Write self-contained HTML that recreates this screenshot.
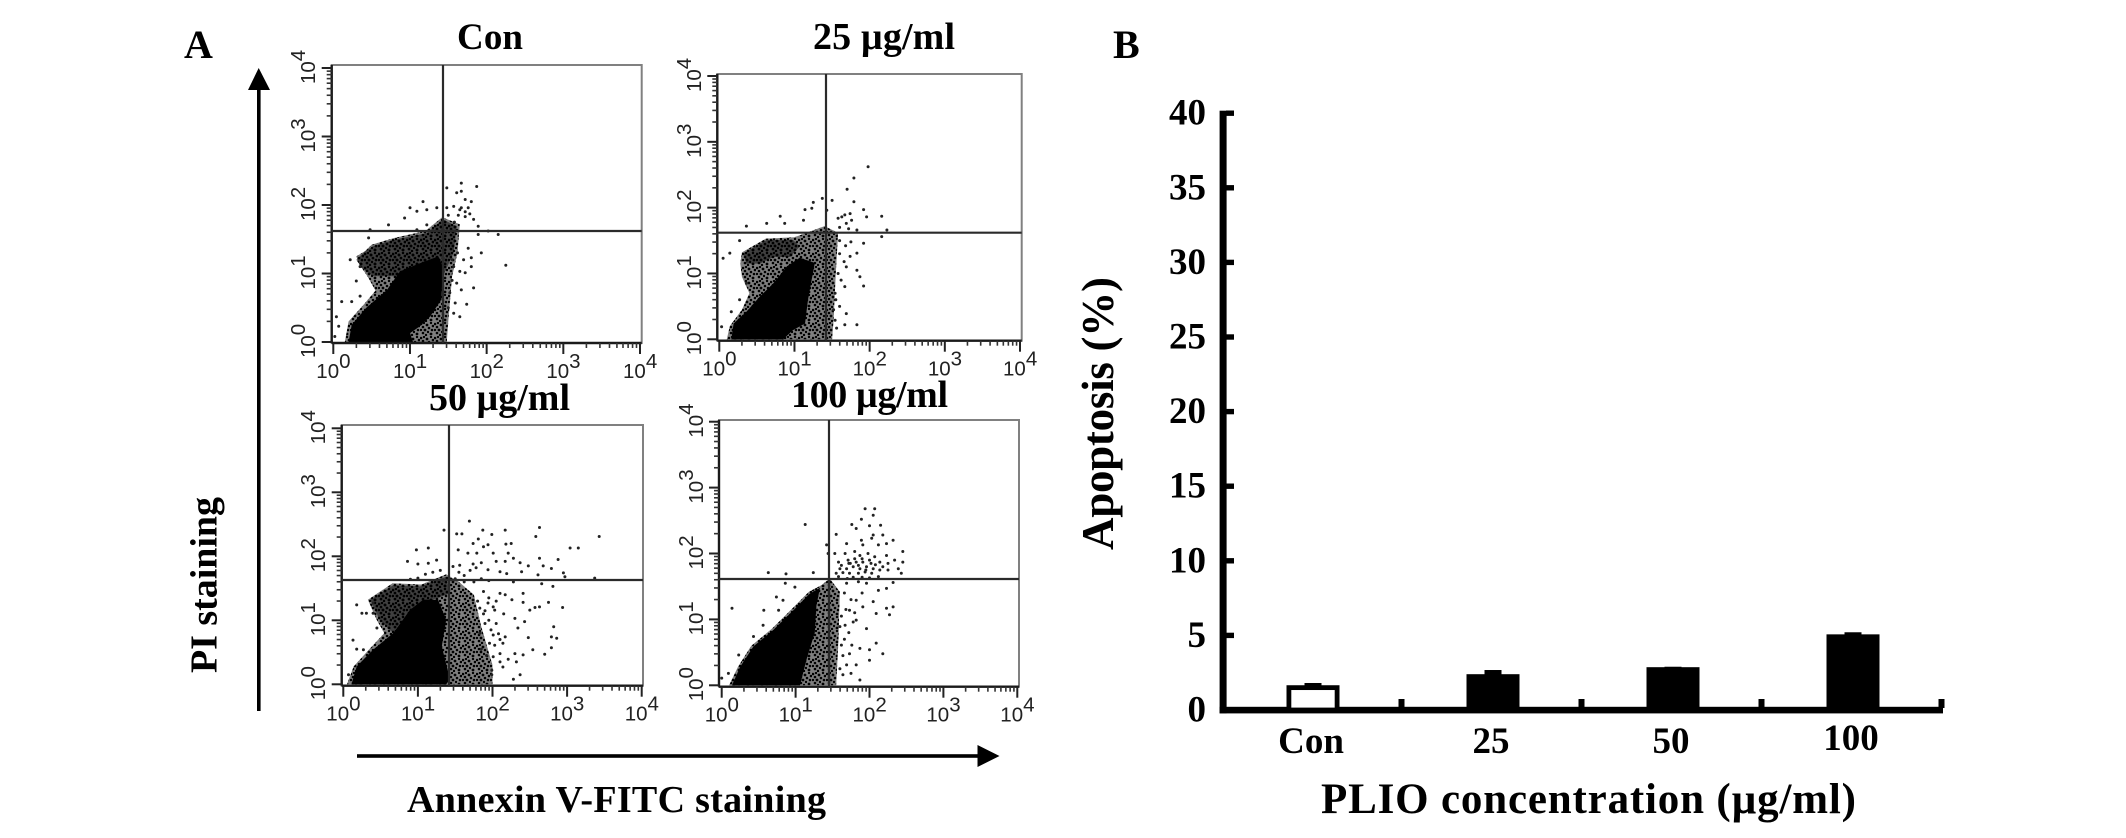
<!DOCTYPE html>
<html lang="en">
<head>
<meta charset="utf-8">
<title>Apoptosis flow cytometry and bar chart</title>
<style>
  html, body { margin: 0; padding: 0; background: #fff; }
  #figure { display: block; width: 2126px; height: 838px; }
  .serif { font-family: "Liberation Serif", "Noto Serif CJK SC", serif; font-weight: bold; fill: #000; }
  .sans { font-family: "Liberation Sans", sans-serif; fill: #222; font-size: 20.5px; }
</style>
</head>
<body>
<svg id="figure" xmlns="http://www.w3.org/2000/svg" width="2126" height="838" viewBox="0 0 2126 838">
  <defs>
    <pattern id="speckle" width="14" height="14" patternUnits="userSpaceOnUse">
      <rect width="14" height="14" fill="#000" fill-opacity="0.5"/>
      <circle cx="1" cy="2" r="1.3"/><circle cx="4" cy="1" r="1.2"/><circle cx="7" cy="3" r="1.4"/>
      <circle cx="11" cy="1" r="1.2"/><circle cx="13" cy="4" r="1.3"/><circle cx="3" cy="5" r="1.3"/>
      <circle cx="9" cy="6" r="1.3"/><circle cx="1" cy="8" r="1.2"/><circle cx="5" cy="8" r="1.4"/>
      <circle cx="12" cy="8" r="1.3"/><circle cx="8" cy="10" r="1.2"/><circle cx="3" cy="11" r="1.3"/>
      <circle cx="11" cy="12" r="1.4"/><circle cx="6" cy="13" r="1.2"/>
    </pattern>
  </defs>

  <rect width="2126" height="838" fill="#fff"/>

  <text class="serif" x="184" y="58" font-size="40">A</text>
  <text class="serif" x="1113" y="58" font-size="40">B</text>

  <text class="serif" x="457" y="49" font-size="37" textLength="66">Con</text>
  <text class="serif" x="813" y="49" font-size="38" textLength="142">25 µg/ml</text>
  <text class="serif" x="429" y="410" font-size="38" textLength="141">50 µg/ml</text>
  <text class="serif" x="791" y="407" font-size="38" textLength="157">100 µg/ml</text>

  <g id="flow-panels"></g>

  <g>
    <rect x="257" y="85" width="3.6" height="626" fill="#000"/>
    <polygon points="258.7,68 248,90 270,90" fill="#000"/>
  </g>
  <g>
    <rect x="357" y="754.2" width="625" height="3.6" fill="#000"/>
    <polygon points="999.5,756 977.5,745 977.5,767" fill="#000"/>
  </g>
  <text class="serif" transform="translate(216.5,673) rotate(-90)" font-size="38" textLength="176">PI staining</text>
  <text class="serif" x="407" y="812" font-size="38" textLength="419">Annexin V-FITC staining</text>

  <g id="bar-chart"></g>
  <text class="serif" transform="translate(1113,550) rotate(-90)" font-size="45" textLength="273">Apoptosis (%)</text>
  <text class="serif" x="1321" y="813" font-size="43" textLength="535">PLIO concentration (µg/ml)</text>
</svg>

<script>
// ---------- Flow cytometry data (log10 decades: [annexin, PI]) ----------
const decadeExponents = [0, 1, 2, 3, 4];

const conSolidRegion = [[.20,0],[.24,.25],[.43,.50],[.70,.76],[.87,1.03],[1.13,1.15],[1.37,1.25],[1.43,1.10],[1.41,.62],[1.26,.37],[1.13,.23],[1.00,.13],[1.04,0]];
const conSpeckleRegions = [
  [[.15,0],[.2,.3],[.4,.55],[.55,.75],[.45,.95],[.3,1.2],[.5,1.42],[.8,1.52],[1.2,1.62],[1.42,1.82],[1.65,1.72],[1.62,1.3],[1.55,.96],[1.5,.3],[1.48,0]],
  [[.30,1.25],[.52,1.40],[.78,1.49],[1.22,1.59],[1.43,1.79],[1.61,1.69],[1.57,1.30],[1.43,.96],[.87,.96],[.52,.96],[.35,1.10]]
];
const conDots = [[1.67,2.32],[1.87,2.27],[1.48,2.25],[1.67,2.20],[1.61,2.18],[1.17,2.05],[1.00,1.96],[1.09,1.91],[1.22,1.93],[1.35,1.96],[1.48,1.96],[1.72,2.08],[1.80,2.05],[1.57,1.98],[1.67,1.96],[1.76,1.96],[1.72,1.83],[1.65,1.93],[1.83,1.79],[1.89,1.69],[2.02,1.62],[2.15,1.57],[1.93,1.30],[2.25,1.12],[1.89,1.57],[1.76,1.37],[1.80,1.23],[1.80,1.10],[1.65,1.03],[1.72,1.01],[1.67,.76],[1.83,.79],[1.59,.57],[1.74,.55],[1.57,.42],[1.65,.37],[.22,1.20],[.35,1.10],[.30,.89],[.35,.67],[.11,.59],[.24,.59],[.04,.37],[.07,.23],[.02,.08],[.48,1.64],[.46,1.52],[.72,1.71],[.93,1.81],[1.09,1.64],[1.22,1.71],[1.61,.86],[1.57,1.10],[1.55,.90],[1.52,.72],[1.50,.50],[1.55,1.20],[1.62,1.30],[1.70,1.20],[1.58,1.75],[1.63,1.85],[1.50,1.85],[1.72,1.90],[1.78,1.87]];

const dose25SolidRegion = [[.16,0],[.19,.24],[.36,.42],[.54,.65],[.72,.85],[.90,1.11],[1.07,1.24],[1.27,1.16],[1.18,.60],[1.14,.24],[.98,.14],[.85,0]];
const dose25SpeckleRegions = [
  [[.1,0],[.14,.2],[.3,.45],[.4,.7],[.3,.95],[.28,1.15],[.3,1.32],[.62,1.53],[1.0,1.55],[1.4,1.72],[1.58,1.62],[1.55,1.0],[1.52,.3],[1.5,0]],
  [[.32,1.31],[.63,1.51],[.98,1.51],[1.07,1.41],[.94,1.25],[.72,1.25],[.54,1.15],[.36,1.15]]
];
const dose25Dots = [[1.98,2.62],[1.79,2.45],[1.70,2.28],[1.37,2.14],[1.50,2.11],[1.79,2.09],[1.25,2.08],[1.14,1.97],[1.23,1.99],[1.43,1.96],[1.92,1.97],[2.16,1.87],[1.96,1.86],[.81,1.87],[.63,1.76],[.87,1.76],[.36,1.72],[1.12,1.81],[2.23,1.66],[2.16,1.56],[1.92,1.46],[.27,1.50],[.05,1.23],[.14,1.31],[1.83,1.05],[1.92,.81],[1.87,.95],[1.69,1.10],[1.67,.80],[1.74,1.26],[1.83,1.31],[1.54,.70],[1.52,.45],[1.69,.39],[1.83,.22],[1.67,.22],[1.56,.17],[1.54,.29],[.03,.19],[.16,.42],[.27,.60],[.36,.85],[1.74,1.91],[1.63,1.86],[1.67,1.89],[1.76,1.81],[1.58,1.84],[1.69,1.76],[1.83,1.66],[1.60,1.50],[1.68,1.42],[1.75,1.48],[1.60,1.30],[1.66,1.18],[1.58,1.00],[1.62,.90],[1.55,.60],[1.60,.50],[1.60,1.70],[1.72,1.68]];

const dose50SolidRegion = [[.11,0],[.18,.28],[.40,.54],[.67,.80],[.89,1.16],[1.07,1.32],[1.27,1.32],[1.38,1.01],[1.32,.59],[1.43,.08],[1.38,0]];
const dose50SpeckleRegions = [
  [[.05,0],[.14,.28],[.35,.55],[.55,.8],[.45,1.0],[.33,1.32],[.66,1.58],[1.05,1.56],[1.38,1.72],[1.55,1.6],[1.75,1.4],[1.85,.9],[2.0,.3],[2.0,0]],
  [[.36,1.32],[.67,1.55],[1.03,1.53],[1.38,1.68],[1.43,1.42],[1.12,1.29],[.89,1.16],[.67,.80],[.49,1.00]]
];
const dose50Dots = [[1.69,2.55],[1.35,2.41],[1.52,2.35],[1.59,2.35],[1.87,2.41],[2.17,2.41],[2.63,2.45],[2.58,2.31],[3.43,2.31],[1.99,2.34],[1.81,2.27],[2.25,2.20],[2.18,2.19],[1.74,2.20],[1.88,2.15],[1.94,2.18],[3.04,2.13],[3.15,2.13],[.98,2.10],[1.14,2.13],[1.54,2.10],[1.67,2.05],[1.79,2.05],[2.01,2.05],[2.21,2.05],[2.63,1.97],[2.88,1.95],[.86,1.92],[1.00,1.88],[1.14,1.89],[1.25,1.94],[1.47,1.84],[1.56,1.86],[1.74,1.88],[1.85,1.90],[2.05,1.92],[2.17,1.92],[2.28,1.97],[2.37,1.90],[2.48,1.85],[2.68,1.85],[2.79,1.81],[1.94,1.79],[2.10,1.76],[2.19,1.73],[2.39,1.76],[2.61,1.71],[2.95,1.74],[2.97,1.68],[3.37,1.66],[2.66,1.57],[2.81,1.53],[2.28,1.60],[2.10,1.42],[2.17,1.40],[2.41,1.42],[2.26,1.32],[2.41,1.28],[2.75,1.28],[2.57,1.20],[2.63,1.21],[2.94,1.20],[2.50,1.16],[2.01,1.21],[1.83,1.19],[1.94,1.27],[2.03,1.16],[2.30,1.03],[2.43,.98],[2.34,.88],[2.82,.90],[2.79,.74],[2.86,.72],[2.48,.73],[2.79,.57],[2.54,.54],[2.70,.47],[2.30,.48],[2.41,.46],[2.10,.48],[2.21,.39],[2.32,.35],[2.14,.27],[2.37,.15],[2.28,.08],[2.01,.77],[2.08,.79],[2.17,.74],[1.96,.64],[2.03,.61],[2.14,.64],[2.01,.43],[2.10,.35],[1.99,.22],[1.99,.15],[1.90,.95],[1.83,.80],[.18,1.24],[.25,1.11],[.31,1.11],[.13,.69],[.18,.55],[.27,.54],[.07,.15],[.45,.88],[.40,1.27],[.40,1.11],[1.55,1.75],[1.62,1.70],[1.70,1.78],[1.78,1.82],[1.50,1.65],[1.62,1.60],[1.75,1.60],[1.85,1.65],[1.95,1.62],[1.10,1.72],[1.20,1.75],[1.30,1.78],[1.00,1.66],[.90,1.64],[1.80,1.30],[1.88,1.10],[1.85,.55],[1.92,.45],[1.88,1.45],[1.95,1.35],[2.05,1.30],[1.90,1.15],[1.95,1.00],[2.05,.95],[1.98,.85],[2.10,.70],[2.15,1.10]];

const dose100SolidRegion = [[.14,0],[.25,.28],[.43,.59],[.70,.84],[.97,1.14],[1.19,1.39],[1.33,1.48],[1.28,1.20],[1.26,.80],[1.15,.40],[1.06,0]];
const dose100SpeckleRegions = [
  [[.1,0],[.22,.28],[.4,.6],[.68,.86],[.95,1.16],[1.18,1.42],[1.35,1.52],[1.46,1.62],[1.6,1.42],[1.58,.7],[1.55,0]]
];
const dose100Dots = [[1.13,2.44],[1.94,2.68],[2.07,2.68],[2.05,2.58],[1.89,2.52],[1.76,2.44],[2.00,2.42],[2.15,2.43],[1.82,2.38],[1.55,2.29],[2.05,2.28],[2.18,2.28],[1.89,2.20],[2.03,2.23],[1.69,2.15],[2.32,2.20],[2.23,2.15],[1.91,2.13],[2.12,2.13],[1.42,2.13],[2.45,2.03],[1.44,2.00],[1.53,2.00],[1.67,2.00],[1.80,2.03],[1.87,1.97],[1.98,2.00],[2.07,1.95],[2.23,1.97],[2.34,1.90],[2.45,1.87],[1.58,1.87],[1.71,1.90],[1.82,1.87],[1.91,1.87],[2.00,1.90],[2.14,1.87],[2.25,1.85],[2.43,1.70],[2.39,1.77],[1.60,1.77],[1.69,1.77],[1.78,1.80],[1.87,1.77],[1.96,1.80],[2.05,1.77],[2.14,1.75],[2.25,1.75],[1.55,1.70],[1.64,1.71],[1.73,1.70],[1.85,1.70],[1.94,1.72],[2.03,1.70],[2.12,1.65],[2.32,1.56],[2.23,1.47],[2.12,1.44],[1.96,1.55],[1.85,1.57],[1.69,1.55],[2.05,1.27],[1.82,1.29],[1.73,1.14],[1.91,1.19],[2.23,1.17],[2.32,1.19],[2.27,1.07],[2.09,1.09],[1.96,.86],[1.78,.96],[1.82,.99],[1.67,.91],[1.60,.89],[1.62,.61],[1.87,.56],[1.76,.61],[2.09,.64],[2.18,.48],[2.00,.54],[2.00,.38],[1.73,.48],[1.82,.31],[1.69,.31],[1.87,.08],[1.64,.16],[1.75,.18],[.63,1.71],[.87,1.69],[1.24,1.71],[.86,1.55],[.99,1.49],[.74,1.34],[.83,1.29],[.14,1.17],[.57,1.14],[.77,1.14],[.56,.91],[.43,.74],[.09,.18],[0,.11],[.23,.46],[1.62,1.82],[1.74,1.85],[1.80,1.92],[1.90,1.92],[1.95,1.75],[2.08,1.83],[2.18,1.80],[1.58,1.65],[1.70,1.62],[1.78,1.64],[1.90,1.64],[2.00,1.63],[1.72,1.85],[1.85,1.82],[2.02,1.85],[1.66,1.40],[1.75,1.30],[1.68,1.15],[1.62,1.05],[1.72,.80],[1.66,.70],[1.80,1.10],[1.90,1.40],[1.64,.45],[1.60,.25]];

// ---------- Bar chart data ----------
const barCategories = ['Con', '25', '50', '100'];
const apoptosisValues = [1.66, 2.40, 2.87, 5.07];
const apoptosisErrors = [0.15, 0.28, 0.03, 0.14];
const barYTicks = [0, 5, 10, 15, 20, 25, 30, 35, 40];

// ---------- Layout ----------
const SVG_NS = 'http://www.w3.org/2000/svg';
const flowPanels = [
  { key: 'con',  solid: conSolidRegion,     speckle: conSpeckleRegions,     dots: conDots,     left: 331.7, right: 641.7,  top: 65,  bottom: 343,   x0: 333.3, x4: 640,    y0: 342,   y4: 68,    gateX: 443, gateY: 231 },
  { key: '25',   solid: dose25SolidRegion,  speckle: dose25SpeckleRegions,  dots: dose25Dots,  left: 717.3, right: 1021.7, top: 74,  bottom: 340.7, x0: 719.3, x4: 1020,   y0: 339.3, y4: 76,    gateX: 826, gateY: 232.7 },
  { key: '50',   solid: dose50SolidRegion,  speckle: dose50SpeckleRegions,  dots: dose50Dots,  left: 341.7, right: 643,    top: 425, bottom: 685.7, x0: 343.3, x4: 641.7,  y0: 684.3, y4: 428.3, gateX: 449, gateY: 580 },
  { key: '100',  solid: dose100SolidRegion, speckle: dose100SpeckleRegions, dots: dose100Dots, left: 719,   right: 1019,   top: 420, bottom: 686.7, x0: 721.7, x4: 1017.3, y0: 685.3, y4: 421.7, gateX: 829, gateY: 579 }
];

function make(tag, attrs, parent) {
  const node = document.createElementNS(SVG_NS, tag);
  for (const k in attrs) node.setAttribute(k, attrs[k]);
  parent.appendChild(node);
  return node;
}

function drawFlowPanel(p, root) {
  const xScale = d => p.x0 + (p.x4 - p.x0) * d / 4;
  const yScale = d => p.y0 + (p.y4 - p.y0) * d / 4;
  const toPoints = poly => poly.map(v => xScale(v[0]).toFixed(1) + ',' + yScale(v[1]).toFixed(1)).join(' ');

  const group = make('g', {}, root);
  
  

  p.speckle.forEach(poly => {
    const region = make('polygon', { points: toPoints(poly), fill: 'url(#speckle)' }, group);
    
    
  });
  const solid = make('polygon', { points: toPoints(p.solid), fill: '#000' }, group);
  
  

  p.dots.forEach(v => {
    const dot = make('circle', { cx: xScale(v[0]).toFixed(1), cy: yScale(v[1]).toFixed(1), r: 1.5, fill: '#222' }, group);
    
    
  });

  // frame
  const frame = make('rect', { x: p.left, y: p.top, width: p.right - p.left, height: p.bottom - p.top, fill: 'none', stroke: '#808080', 'stroke-width': 2 }, group);
  
  

  // dark left and bottom axes
  const axisX = make('line', { x1: p.left, x2: p.right, y1: p.bottom, y2: p.bottom, stroke: '#1a1a1a', 'stroke-width': 2.4 }, group);
  
  
  const axisY = make('line', { x1: p.left, x2: p.left, y1: p.top, y2: p.bottom, stroke: '#1a1a1a', 'stroke-width': 2.4 }, group);
  
  

  // quadrant gates
  const gateV = make('line', { x1: p.gateX, x2: p.gateX, y1: p.top, y2: p.bottom, stroke: '#2a2a2a', 'stroke-width': 2.2 }, group);
  
  
  const gateH = make('line', { x1: p.left, x2: p.right, y1: p.gateY, y2: p.gateY, stroke: '#2a2a2a', 'stroke-width': 2.2 }, group);
  
  

  // ticks and labels
  decadeExponents.forEach(e => {
    const tx = xScale(e), ty = yScale(e);
    const majorX = make('line', { x1: tx, x2: tx, y1: p.bottom, y2: p.bottom + 11, stroke: '#222', 'stroke-width': 2 }, group);
    
    
    const majorY = make('line', { x1: p.left, x2: p.left - 10, y1: ty, y2: ty, stroke: '#222', 'stroke-width': 2 }, group);
    
    

    if (e < 4) {
      for (let k = 2; k < 10; k++) {
        const mx = xScale(e + Math.log10(k)), my = yScale(e + Math.log10(k));
        const minorX = make('line', { x1: mx, x2: mx, y1: p.bottom, y2: p.bottom + 5, stroke: '#333', 'stroke-width': 1.6 }, group);
        
        
        const minorY = make('line', { x1: p.left, x2: p.left - 5, y1: my, y2: my, stroke: '#333', 'stroke-width': 1.6 }, group);
        
        
      }
    }

    const xLabel = make('text', { x: tx - 17, y: p.bottom + 35, class: 'sans' }, group);
    
    
    xLabel.textContent = '10';
    make('tspan', { dy: -10 }, xLabel).textContent = String(e);

    const yLabel = make('text', { transform: 'translate(' + (p.x0 - 18.5) + ',' + (ty + 16) + ') rotate(-90)', class: 'sans' }, group);
    
    
    yLabel.textContent = '10';
    make('tspan', { dy: -10 }, yLabel).textContent = String(e);
  });
}

const flowRoot = document.getElementById('flow-panels');
flowPanels.forEach(p => drawFlowPanel(p, flowRoot));

// ---------- Bar chart ----------
const barRoot = document.getElementById('bar-chart');
const plotLeft = 1223, plotRight = 1943, zeroY = 710, unitY = 14.92;
const barY = v => zeroY - v * unitY;
const slotW = (plotRight - plotLeft) / barCategories.length;
const barX = i => plotLeft + slotW * (i + 0.5);

const yAxisLine = make('rect', { x: 1219.6, y: barY(40) - 2.5, width: 7, height: zeroY - barY(40) + 5.8, fill: '#000' }, barRoot);


const xAxisLine = make('rect', { x: 1219.6, y: zeroY - 3.2, width: plotRight - 1219.6, height: 6.6, fill: '#000' }, barRoot);



barYTicks.forEach(t => {
  const y = barY(t);
  if (t > 0) {
    const tick = make('rect', { x: 1226, y: y - 2.7, width: 8, height: 5.4, fill: '#000' }, barRoot);
    
    
  }
  const label = make('text', { x: 1206, y: y + 11.5, 'text-anchor': 'end', class: 'serif', 'font-size': 37 }, barRoot);
  
  
  label.textContent = String(t);
});

barCategories.forEach((c, i) => {
  const cx = barX(i), w = 53, v = apoptosisValues[i], e = apoptosisErrors[i];
  const err = make('rect', { x: cx - 8.5, y: barY(v + e), width: 17, height: barY(v) - barY(v + e) + 2, fill: '#000' }, barRoot);
  
  

  const bar = i === 0
    ? make('rect', { x: cx - w / 2 + 2.4, y: barY(v) + 2.4, width: w - 4.8, height: zeroY - barY(v) - 2.4, fill: '#fff', stroke: '#000', 'stroke-width': 4.8 }, barRoot)
    : make('rect', { x: cx - w / 2, y: barY(v), width: w, height: zeroY - barY(v), fill: '#000' }, barRoot);
  
  

  const label = make('text', { x: cx - 2, y: i === 3 ? 750 : 753, 'text-anchor': 'middle', class: 'serif', 'font-size': 37 }, barRoot);
  
  
  label.textContent = c;

  const tx = plotLeft + slotW * (i + 1);
  const tick = make('rect', { x: tx - 4.5, y: 699, width: 6, height: 9, fill: '#000' }, barRoot);
  
  
});
</script>
</body>
</html>
